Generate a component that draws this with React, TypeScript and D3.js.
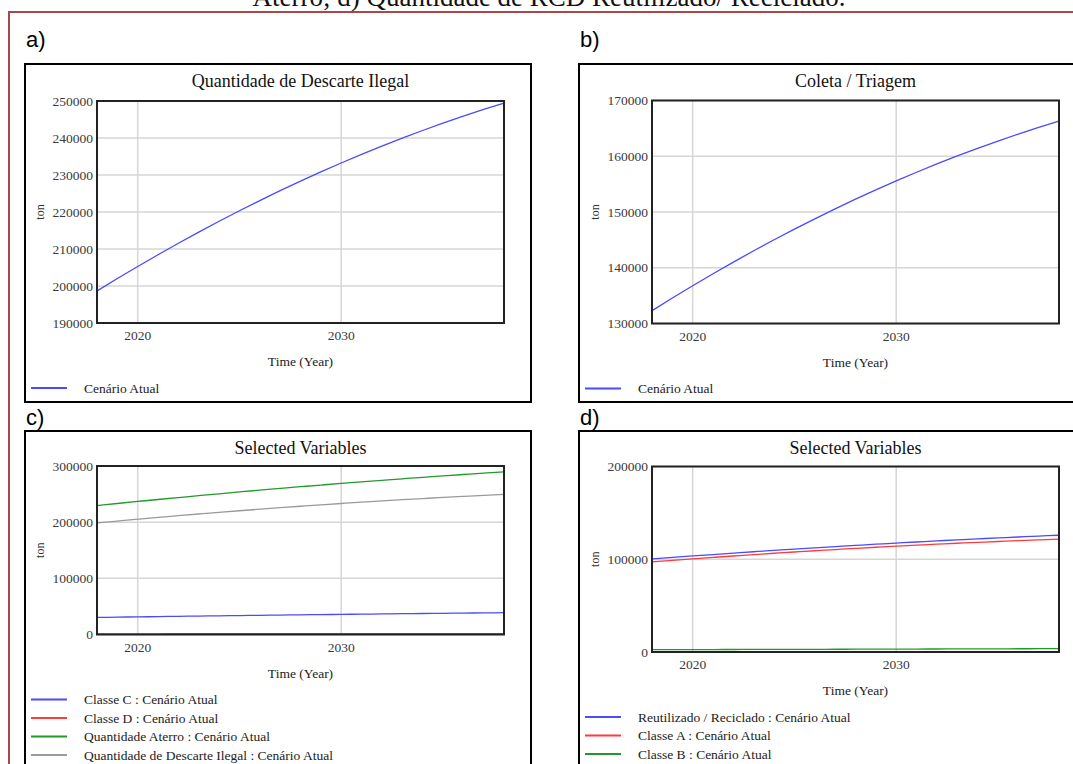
import React from "react";
import * as d3 from "d3";

const years = [2018, 2019, 2020, 2021, 2022, 2023, 2024, 2025, 2026, 2027, 2028, 2029, 2030, 2031, 2032, 2033, 2034, 2035, 2036, 2037, 2038];

const descarteIlegal = [198650, 202010, 205280, 208460, 211560, 214570, 217500, 220340, 223090, 225760, 228340, 230840, 233250, 235570, 237810, 239960, 242030, 244010, 245900, 247710, 249430];
const coletaTriagem = [132300, 134570, 136780, 138930, 141020, 143050, 145020, 146930, 148780, 150570, 152300, 153970, 155580, 157130, 158620, 160050, 161420, 162730, 163980, 165170, 166300];
const classeC = [30400, 30900, 31380, 31860, 32340, 32800, 33260, 33700, 34140, 34580, 35000, 35420, 35820, 36220, 36620, 37000, 37380, 37740, 38100, 38460, 38800];
const classeD = [1200, 1230, 1260, 1290, 1320, 1350, 1380, 1410, 1440, 1470, 1500, 1520, 1540, 1560, 1580, 1600, 1620, 1640, 1660, 1680, 1700];
const quantidadeAterro = [229600, 233270, 236860, 240390, 243840, 247230, 250540, 253790, 256960, 260070, 263100, 266070, 268960, 271790, 274540, 277230, 279840, 282390, 284860, 287270, 289600];
const reutilizadoReciclado = [100300, 101930, 103530, 105080, 106600, 108090, 109530, 110940, 112320, 113650, 114950, 116210, 117440, 118620, 119770, 120890, 121960, 123000, 124010, 124970, 125900];
const classeA = [97100, 98780, 100400, 101990, 103520, 105010, 106450, 107840, 109180, 110480, 111730, 112930, 114080, 115190, 116250, 117260, 118220, 119140, 120010, 120830, 121600];
const classeB = [2500, 2550, 2600, 2650, 2700, 2750, 2800, 2850, 2900, 2950, 3000, 3060, 3120, 3180, 3240, 3300, 3360, 3420, 3480, 3540, 3600];

const xTicks = [2020, 2030];
const yTicksA = [190000, 200000, 210000, 220000, 230000, 240000, 250000];
const yTicksB = [130000, 140000, 150000, 160000, 170000];
const yTicksC = [0, 100000, 200000, 300000];
const yTicksD = [0, 100000, 200000];

const BLUE = "#4a4aff";
const RED = "#ff3a3a";
const GREEN = "#22992a";
const GRAY = "#9a9a9a";

type Series = { name: string; values: number[]; color: string };

type PanelProps = {
  label: string;
  labelY: number;
  title: string;
  box: { x: number; y: number; w: number; h: number };
  plot: { l: number; r: number; t: number; b: number };
  yDomain: [number, number];
  yTicks: number[];
  series: Series[];
  legendLabels: string[];
};

const SERIF = "'Liberation Serif', 'Times New Roman', serif";

function Panel({ label, labelY, title, box, plot, yDomain, yTicks, series, legendLabels }: PanelProps) {
  const x = d3.scaleLinear().domain([years[0], years[years.length - 1]]).range([plot.l, plot.r]);
  const y = d3.scaleLinear().domain(yDomain).range([plot.b, plot.t]);
  const line = d3
    .line<number>()
    .x((_, i) => x(years[i]))
    .y((v) => y(v))
    .curve(d3.curveMonotoneX);
  const cx = (plot.l + plot.r) / 2;
  return (
    <g>
      <rect x={box.x} y={box.y} width={box.w} height={box.h} fill="#fff" stroke="#000" strokeWidth={2} />
      <text x={box.x + 1} y={labelY} fontFamily="'Liberation Sans', 'DejaVu Sans', sans-serif" fontSize={22} fill="#000">
        {label}
      </text>
      <text x={cx} y={box.y + 23} textAnchor="middle" fontFamily={SERIF} fontSize={18} fill="#111">
        {title}
      </text>
      {yTicks.map((t) => (
        <line key={"gy" + t} x1={plot.l} x2={plot.r} y1={y(t)} y2={y(t)} stroke="#d6d6d6" strokeWidth={1.5} />
      ))}
      {xTicks.map((t) => (
        <line key={"gx" + t} x1={x(t)} x2={x(t)} y1={plot.t} y2={plot.b} stroke="#d6d6d6" strokeWidth={1.5} />
      ))}
      {series.map((s) => (
        <path key={s.name} d={line(s.values) || ""} fill="none" stroke={s.color} strokeWidth={1.3} />
      ))}
      <rect x={plot.l} y={plot.t} width={plot.r - plot.l} height={plot.b - plot.t} fill="none" stroke="#222" strokeWidth={2} />
      {yTicks.map((t) => (
        <text key={"ty" + t} x={plot.l - 4} y={y(t)} dy="0.35em" textAnchor="end" fontFamily={SERIF} fontSize={13.5} fill="#3a3a3a">
          {t}
        </text>
      ))}
      {xTicks.map((t) => (
        <text key={"tx" + t} x={x(t)} y={plot.b + 17} textAnchor="middle" fontFamily={SERIF} fontSize={13.5} fill="#3a3a3a">
          {t}
        </text>
      ))}
      <text x={cx} y={plot.b + 43} textAnchor="middle" fontFamily={SERIF} fontSize={13.5} fill="#222">
        Time (Year)
      </text>
      <text
        transform={`translate(${plot.l - 57},${(plot.t + plot.b) / 2}) rotate(-90)`}
        textAnchor="middle"
        dy="0.35em"
        fontFamily={SERIF}
        fontSize={12}
        fill="#333"
      >
        ton
      </text>
      {series.map((s, i) => {
        const ly = plot.b + 65 + i * 18.5;
        return (
          <g key={"lg" + s.name}>
            <line x1={box.x + 6} x2={box.x + 42} y1={ly} y2={ly} stroke={s.color} strokeWidth={2} />
            <text x={box.x + 59} y={ly} dy="0.35em" fontFamily={SERIF} fontSize={13.5} fill="#222">
              {legendLabels[i]}
            </text>
          </g>
        );
      })}
    </g>
  );
}

export default function App() {
  return (
    <svg
      width={1073}
      height={764}
      style={{ position: "absolute", left: 0, top: 0, background: "#fff", display: "block" }}
    >
      <rect x={0} y={0} width={1073} height={764} fill="#fff" />
      <text x={549} y={6} textAnchor="middle" fontFamily={SERIF} fontSize={27} fill="#111">
        Aterro; d) Quantidade de RCD Reutilizado/ Reciclado.
      </text>
      <rect x={9} y={12} width={1100} height={800} fill="none" stroke="#a84848" strokeWidth={2} />
      <Panel
        label="a)"
        labelY={47}
        title="Quantidade de Descarte Ilegal"
        box={{ x: 25, y: 64, w: 506, h: 338 }}
        plot={{ l: 97, r: 504, t: 101, b: 323 }}
        yDomain={[190000, 250000]}
        yTicks={yTicksA}
        series={[{ name: "a", values: descarteIlegal, color: BLUE }]}
        legendLabels={["Cenário Atual"]}
      />
      <Panel
        label="b)"
        labelY={47}
        title="Coleta / Triagem"
        box={{ x: 579, y: 64, w: 520, h: 338 }}
        plot={{ l: 652, r: 1059, t: 100.5, b: 323.5 }}
        yDomain={[130000, 170000]}
        yTicks={yTicksB}
        series={[{ name: "b", values: coletaTriagem, color: BLUE }]}
        legendLabels={["Cenário Atual"]}
      />
      <Panel
        label="c)"
        labelY={425}
        title="Selected Variables"
        box={{ x: 25, y: 431, w: 506, h: 360 }}
        plot={{ l: 97, r: 504, t: 466, b: 634.5 }}
        yDomain={[0, 300000]}
        yTicks={yTicksC}
        series={[
          { name: "c1", values: classeC, color: BLUE },
          { name: "c2", values: classeD, color: RED },
          { name: "c3", values: quantidadeAterro, color: GREEN },
          { name: "c4", values: descarteIlegal, color: GRAY },
        ]}
        legendLabels={[
          "Classe C : Cenário Atual",
          "Classe D : Cenário Atual",
          "Quantidade Aterro : Cenário Atual",
          "Quantidade de Descarte Ilegal : Cenário Atual",
        ]}
      />
      <Panel
        label="d)"
        labelY={425}
        title="Selected Variables"
        box={{ x: 579, y: 431, w: 520, h: 360 }}
        plot={{ l: 652, r: 1059, t: 466.5, b: 652 }}
        yDomain={[0, 200000]}
        yTicks={yTicksD}
        series={[
          { name: "d1", values: reutilizadoReciclado, color: BLUE },
          { name: "d2", values: classeA, color: RED },
          { name: "d3", values: classeB, color: GREEN },
        ]}
        legendLabels={[
          "Reutilizado / Reciclado : Cenário Atual",
          "Classe A : Cenário Atual",
          "Classe B : Cenário Atual",
        ]}
      />
    </svg>
  );
}
